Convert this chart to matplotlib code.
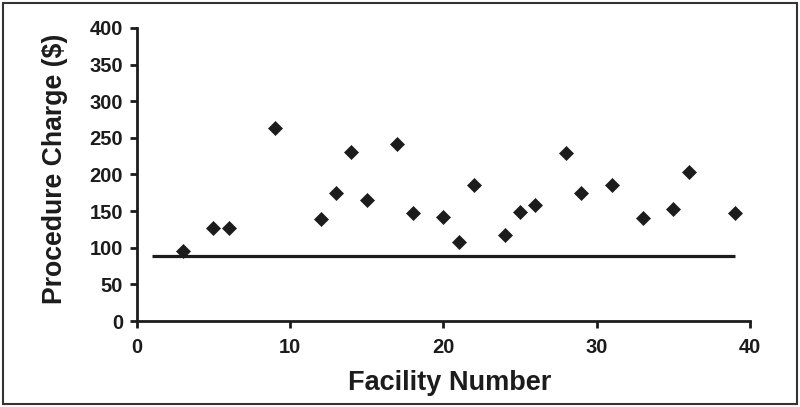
import matplotlib
matplotlib.use("Agg")
import matplotlib.pyplot as plt
from matplotlib.patches import Rectangle

# --- data ---
facility = [3, 5, 6, 9, 12, 13, 14, 15, 17, 18, 20, 21, 22, 24, 25, 26,
            28, 29, 31, 33, 35, 36, 39]
charge = [95, 127, 127, 263, 139, 175, 231, 165, 241, 147, 142, 108, 186,
          118, 149, 159, 230, 175, 186, 140, 153, 204, 147]

ref_x = [1, 39]      # reference line span
ref_y = [89, 89]     # reference charge level

x_ticks = [0, 10, 20, 30, 40]
y_ticks = [0, 50, 100, 150, 200, 250, 300, 350, 400]

plt.rcParams['font.family'] = ['Liberation Sans', 'DejaVu Sans']
ink = '#1c1c1c'

fig = plt.figure(figsize=(8.0, 4.07), dpi=100)
ax = fig.add_axes([0.171, 0.2113, 0.7665, 0.72])

ax.plot(ref_x, ref_y, color=ink, linewidth=2.3, solid_capstyle='butt')
ax.plot(facility, charge, linestyle='none', marker='D', markersize=7.2,
        color=ink, markeredgewidth=0.5, clip_on=False)

ax.set_xlim(0, 40)
ax.set_ylim(0, 400)
ax.set_xticks(x_ticks)
ax.set_yticks(y_ticks)

for side in ('top', 'right'):
    ax.spines[side].set_visible(False)
for side in ('left', 'bottom'):
    ax.spines[side].set_linewidth(2.0)
    ax.spines[side].set_color(ink)

ax.tick_params(direction='out', length=5, width=2.0, color=ink,
               labelsize=14.5, labelcolor=ink)
ax.tick_params(axis='x', pad=7)
ax.tick_params(axis='y', pad=5)
for lab in ax.get_xticklabels() + ax.get_yticklabels():
    lab.set_fontweight('bold')

ax.set_xlabel('Facility Number', fontsize=19.5, fontweight='bold', color=ink)
ax.set_ylabel('Procedure Charge ($)', fontsize=19.2, fontweight='bold',
              color=ink)
ax.xaxis.set_label_coords(0.51, -0.168)
ax.yaxis.set_label_coords(-0.112, 0.52)

# thin frame around the whole figure
fig.patches.append(Rectangle((0.004, 0.008), 0.992, 0.984,
                             transform=fig.transFigure, fill=False,
                             edgecolor='#333333', linewidth=1.5))

fig.savefig('out.png', dpi=100)
